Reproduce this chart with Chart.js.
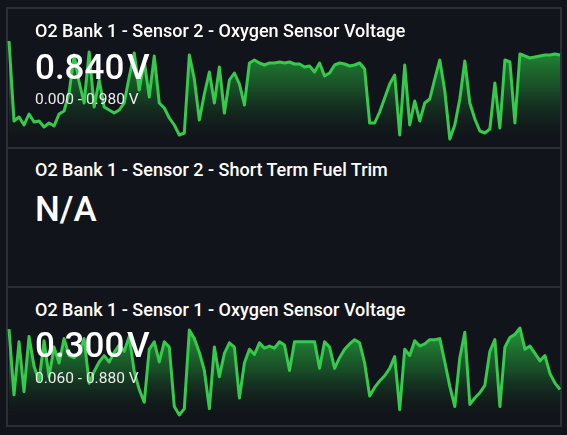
<!DOCTYPE html>
<html>
<head>
<meta charset="utf-8">
<script src="https://cdn.jsdelivr.net/npm/chart.js@4.4.0/dist/chart.umd.min.js"></script>
<style>
  html, body {
    margin: 0;
    padding: 0;
    width: 567px;
    height: 435px;
    overflow: hidden;
    background: #12141b;
    font-family: Roboto, "Noto Sans", sans-serif;
    color: #fff;
  }
  .panel {
    position: absolute;
    left: 6px;
    width: 556px;
    border-top: 2px solid #2c2f37;
    border-left: 2px solid #2c2f37;
    border-right: 2px solid #2c2f37;
    box-sizing: border-box;
  }
  .chart-box { position: absolute; left: 6px; width: 557px; }
  .txt { position: absolute; left: 35px; white-space: nowrap; }
  .title { font-size: 18px; line-height: 18px; font-weight: 500; }
  .value { font-size: 35px; line-height: 35px; font-weight: 500; word-spacing: -6px; }
  .range { font-size: 15.5px; line-height: 15.5px; font-weight: 400; color: #ececec; }
</style>
</head>
<body>
<div class="panel" style="top:7px;height:141px"></div>
<div class="panel" style="top:147px;height:140px"></div>
<div class="panel" style="top:286px;height:141px;border-bottom:2px solid #2c2f37"></div>

<div class="chart-box" style="top:36px;height:108px"><canvas id="chartS2"></canvas></div>
<div class="chart-box" style="top:323px;height:97px"><canvas id="chartS1"></canvas></div>

<div class="txt title" id="title0" style="top:22px"></div>
<div class="txt value" id="value0" style="top:50px"></div>
<div class="txt range" id="range0" style="top:92px"></div>

<div class="txt title" id="title1" style="top:161px"></div>
<div class="txt value" id="value1" style="top:192px"></div>

<div class="txt title" id="title2" style="top:301px"></div>
<div class="txt value" id="value2" style="top:328px"></div>
<div class="txt range" id="range2" style="top:371px"></div>

<script>
// Panel texts
const panelTitles = [
  "O2 Bank 1 - Sensor 2 - Oxygen Sensor Voltage",
  "O2 Bank 1 - Sensor 2 - Short Term Fuel Trim",
  "O2 Bank 1 - Sensor 1 - Oxygen Sensor Voltage",
];
const panelValues = ["0.840 V", "N/A", "0.300 V"];
const rangeMin = [0.0, null, 0.06];
const rangeMax = [0.98, null, 0.88];

// Sensor 2 voltage history (V)
const s2Voltage = [
  0.98, 0.18, 0.22, 0.14, 0.25, 0.17, 0.18, 0.12, 0.16, 0.13,
  0.25, 0.28, 0.46, 0.84, 0.57, 0.36, 0.87, 0.32, 0.59, 0.32,
  0.29, 0.26, 0.29, 0.36, 0.62, 0.86, 0.49, 0.78, 0.42, 0.83,
  0.36, 0.31, 0.21, 0.14, 0.04, 0.06, 0.84, 0.60, 0.19, 0.45,
  0.67, 0.36, 0.72, 0.26, 0.59, 0.66, 0.55, 0.34, 0.76, 0.79,
  0.76, 0.74, 0.76, 0.76, 0.77, 0.76, 0.77, 0.75, 0.75, 0.72,
  0.73, 0.67, 0.76, 0.63, 0.66, 0.74, 0.76, 0.75, 0.73, 0.74,
  0.76, 0.70, 0.16, 0.16, 0.27, 0.41, 0.55, 0.64, 0.04, 0.74,
  0.14, 0.38, 0.18, 0.36, 0.40, 0.60, 0.79, 0.48, 0.00, 0.14,
  0.40, 0.78, 0.36, 0.20, 0.08, 0.06, 0.10, 0.56, 0.11, 0.79,
  0.77, 0.16, 0.85, 0.83, 0.81, 0.82, 0.83, 0.84, 0.84, 0.85,
  0.84,
];

// Sensor 1 voltage history (V)
const s1Voltage = [
  0.87, 0.25, 0.75, 0.28, 0.80, 0.52, 0.38, 0.76, 0.42, 0.70,
  0.55, 0.78, 0.62, 0.60, 0.65, 0.78, 0.36, 0.47, 0.56, 0.62,
  0.56, 0.65, 0.72, 0.66, 0.80, 0.47, 0.30, 0.18, 0.68, 0.75,
  0.56, 0.75, 0.70, 0.14, 0.06, 0.12, 0.86, 0.78, 0.65, 0.48,
  0.12, 0.70, 0.42, 0.64, 0.74, 0.70, 0.22, 0.55, 0.68, 0.63,
  0.74, 0.69, 0.71, 0.69, 0.75, 0.72, 0.48, 0.75, 0.75, 0.75,
  0.75, 0.75, 0.50, 0.75, 0.70, 0.50, 0.60, 0.68, 0.73, 0.77,
  0.74, 0.55, 0.24, 0.32, 0.38, 0.43, 0.50, 0.61, 0.11, 0.68,
  0.62, 0.76, 0.71, 0.73, 0.77, 0.77, 0.78, 0.56, 0.33, 0.14,
  0.60, 0.84, 0.16, 0.22, 0.27, 0.34, 0.66, 0.77, 0.14, 0.70,
  0.79, 0.82, 0.88, 0.68, 0.71, 0.64, 0.57, 0.62, 0.45, 0.36,
  0.30,
];

const LINE_GREEN = "#37c94c";

document.addEventListener("DOMContentLoaded", () => {
  // 1. Fill the texts
  panelTitles.forEach((t, i) => {
    document.getElementById("title" + i).textContent = t;
    document.getElementById("value" + i).textContent = panelValues[i];
    const r = document.getElementById("range" + i);
    if (r && rangeMin[i] !== null) {
      r.textContent = `${rangeMin[i].toFixed(3)} - ${rangeMax[i].toFixed(3)} V`;
    }
  });

  // 2. Draw the sparklines
  initChart("chartS2", s2Voltage, rangeMin[0], rangeMax[0]);
  initChart("chartS1", s1Voltage, rangeMin[2], rangeMax[2]);
});

/**
 * Green gradient under the line, from the chart area top to its bottom
 */
function greenFill(context) {
  const { ctx, chartArea } = context.chart;
  if (!chartArea) return "rgba(40, 160, 60, 0.5)";
  const g = ctx.createLinearGradient(0, chartArea.top, 0, chartArea.bottom);
  g.addColorStop(0, "rgba(38, 165, 58, 0.95)");
  g.addColorStop(0.5, "rgba(28, 105, 45, 0.65)");
  g.addColorStop(1, "rgba(18, 30, 26, 0.1)");
  return g;
}

/**
 * One sparkline chart, no axes, no legend
 */
function initChart(canvasId, values, yMin, yMax) {
  const ctx = document.getElementById(canvasId).getContext("2d");
  return new Chart(ctx, {
    type: "line",
    data: {
      labels: values.map((_, i) => i),
      datasets: [
        {
          data: values,
          borderColor: LINE_GREEN,
          borderWidth: 3,
          backgroundColor: greenFill,
          fill: "start",
          tension: 0,
          pointRadius: 0,
          borderJoinStyle: "round",
          clip: false,
        },
      ],
    },
    options: {
      responsive: true,
      maintainAspectRatio: false,
      animation: false,
      layout: { padding: { left: 3, right: 3, top: 5, bottom: 5 } },
      plugins: { legend: { display: false }, tooltip: { enabled: false } },
      scales: {
        x: { display: false },
        y: { display: false, min: yMin, max: yMax },
      },
    },
  });
}
</script>
</body>
</html>
